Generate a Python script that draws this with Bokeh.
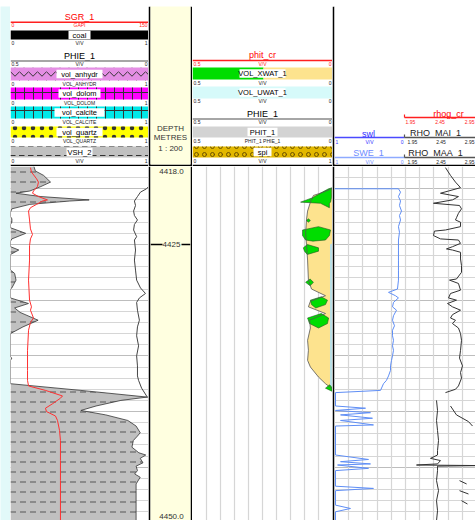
import numpy as np
from bokeh.plotting import figure
from bokeh.models import Range1d, Grid, FixedTicker
from bokeh.layouts import row, column
from bokeh.core.properties import value
from bokeh.embed import file_html
from bokeh.resources import INLINE

FONT = value("Liberation Sans")
NAN = float("nan")

# ---------------- data ----------------
DEPTH_TOP = 4418.0
DEPTH_BOTTOM = 4449.78
DEPTH_LABEL_VALUES = [4418.0, 4425.0, 4450.0]
DEPTH_LABEL_TEXT = ["4418.0", "4425", "4450.0"]
DEPTH_TICK_VALUES = [4425.0]
DEPTH_MINOR_TICKS = [4418, 4419, 4420, 4421, 4422, 4423, 4424, 4425, 4426, 4427, 4428, 4429,
                     4430, 4431, 4432, 4433, 4434, 4435, 4436, 4437, 4438, 4439, 4440, 4441,
                     4442, 4443, 4444, 4445, 4446, 4447, 4448, 4449]
DEPTH_MAJOR_TICKS = [4420, 4425, 4430, 4435, 4440, 4445]

# track 1 : VSH_2 (v/v, 0-1)
VSH_DEPTH = [4418.0, 4418.4, 4418.8, 4419.4, 4419.8, 4420.2, 4420.4, 4420.7, 4421.0, 4421.1,
             4421.4, 4421.8, 4422.1, 4422.5, 4422.7, 4423.0, 4423.2, 4423.5, 4424.0, 4424.5,
             4424.7, 4425.2, 4425.5, 4425.9, 4427.3, 4427.6, 4428.2, 4428.9, 4429.0, 4429.8,
             4430.3, 4430.7, 4431.1, 4431.8, 4432.4, 4433.0, 4435.1, 4435.2, 4435.4, 4437.5,
             4438.1, 4438.7, 4439.0, 4439.5, 4439.9, 4440.3, 4440.8, 4441.3, 4441.9, 4442.2,
             4442.6, 4443.2, 4443.7, 4443.9, 4444.2, 4444.6, 4444.9, 4445.3, 4445.6, 4445.9,
             4446.5, 4447.1, 4449.8]
VSH_2 = [0.17, 0.18, 0.24, 0.29, 0.22, 0.14, 0.04, 0.22, 0.57, 0.43,
         0.14, 0.01, 0.0, 0.0, 0.01, 0.01, 0.0, 0.0, 0.11, 0.01,
         0.0, 0.0, 0.06, 0.0, 0.0, 0.03, 0.04, 0.01, 0.0, 0.0,
         0.13, 0.03, 0.07, 0.20, 0.09, 0.0, 0.0, 0.01, 0.0, 0.0,
         0.51, 0.99, 0.80, 0.62, 0.51, 0.69, 0.85, 0.91, 0.94, 0.92,
         0.89, 0.88, 0.93, 0.98, 0.94, 0.96, 0.91, 0.92, 0.90, 0.94,
         0.91, 0.91, 0.91]

# track 1 : SGR_1 (GAPI, 0-150)
SGR_DEPTH = [4418.1, 4418.5, 4419.1, 4419.4, 4419.8, 4420.2, 4420.4, 4420.7, 4421.0, 4421.1,
             4421.4, 4421.7, 4422.0, 4422.8, 4423.6, 4424.1, 4424.5, 4425.1, 4426.4, 4428.2,
             4430.0, 4430.6, 4430.9, 4431.6, 4432.0, 4432.7, 4434.5, 4436.3, 4437.2, 4437.7,
             4438.1, 4438.6, 4438.8, 4439.3, 4439.7, 4440.0, 4440.4, 4440.8, 4441.7, 4442.6,
             4444.4, 4446.2, 4449.8]
SGR_1 = [21.7, 22.8, 28.3, 30.4, 29.3, 25.0, 23.9, 30.4, 40.2, 34.8,
         28.3, 21.7, 19.6, 20.7, 21.7, 23.9, 21.7, 20.7, 20.7, 19.6,
         20.7, 22.8, 21.7, 25.0, 21.7, 19.6, 18.5, 18.5, 18.5, 19.6,
         38.0, 56.5, 54.3, 45.7, 38.0, 39.1, 48.9, 51.1, 53.3, 54.3,
         54.3, 54.3, 54.3]

# track 1 : PHIE_1 (0.5-0)
PHIE_DEPTH = [4418.0, 4419.8, 4420.0, 4420.3, 4420.7, 4421.1, 4421.5, 4422.0, 4422.4, 4422.8,
              4423.2, 4423.7, 4424.3, 4424.6, 4425.5, 4426.4, 4427.3, 4428.2, 4428.9, 4429.4,
              4429.8, 4430.2, 4430.9, 4431.8, 4432.4, 4433.2, 4434.1, 4435.0, 4435.9, 4436.8,
              4437.2, 4437.9, 4438.6, 4438.8, 4449.8]
PHIE_1 = [0.0, 0.0, 0.007, 0.029, 0.040, 0.051, 0.047, 0.054, 0.051, 0.040,
          0.051, 0.054, 0.043, 0.051, 0.047, 0.051, 0.047, 0.043, 0.029, 0.011,
          0.033, 0.043, 0.040, 0.033, 0.040, 0.043, 0.036, 0.043, 0.040, 0.040,
          0.036, 0.025, 0.007, 0.0, 0.0]

# track 3 : PHIT_1 (0.5-0)
PHIT_DEPTH = [4418.0, 4419.9, 4420.0, 4420.3, 4420.6, 4421.2, 4422.0, 4422.8, 4424.0, 4425.0,
              4426.4, 4428.2, 4429.0, 4429.6, 4430.1, 4430.6, 4431.2, 4431.8, 4432.5, 4433.6,
              4434.5, 4435.4, 4436.0, 4436.9, 4437.5, 4437.9, 4438.1, 4449.8]
PHIT_1 = [0.0, 0.0, 0.004, 0.032, 0.068, 0.079, 0.089, 0.093, 0.096, 0.093,
          0.089, 0.086, 0.075, 0.025, 0.079, 0.086, 0.025, 0.082, 0.079, 0.089,
          0.086, 0.089, 0.079, 0.050, 0.025, 0.004, 0.0, 0.0]

# track 3 : VOL_XWAT_1 excess bodies (left / right edge), NaN separates bodies
XWAT_DEPTH = [4419.9, 4420.0, 4420.3, 4420.8, 4421.2, 4421.3, 4421.7, NAN,
              4422.7, 4422.85, 4423.0, NAN,
              4423.4, 4423.7, 4424.2, 4424.6, 4424.7, NAN,
              4425.0, 4425.3, 4425.6, 4425.9, NAN,
              4428.1, 4428.4, 4428.7, NAN,
              4429.7, 4430.0, 4430.4, 4430.7, NAN,
              4431.2, 4431.6, 4432.1, 4432.5, NAN,
              4437.6, 4437.9, 4438.2]
XWAT_LEFT = [0.0, 0.014, 0.036, 0.071, 0.114, 0.043, 0.011, NAN,
             0.086, 0.093, 0.086, NAN,
             0.050, 0.107, 0.107, 0.096, 0.070, NAN,
             0.090, 0.104, 0.100, 0.090, NAN,
             0.080, 0.096, 0.080, NAN,
             0.040, 0.079, 0.075, 0.060, NAN,
             0.040, 0.089, 0.082, 0.050, NAN,
             0.010, 0.025, 0.0]
XWAT_RIGHT = [0.0, 0.004, 0.004, 0.004, 0.007, 0.011, 0.011, NAN,
              0.086, 0.079, 0.086, NAN,
              0.050, 0.007, 0.011, 0.025, 0.070, NAN,
              0.090, 0.050, 0.050, 0.090, NAN,
              0.080, 0.068, 0.080, NAN,
              0.040, 0.018, 0.025, 0.060, NAN,
              0.040, 0.014, 0.018, 0.050, NAN,
              0.010, 0.0, 0.0]

# track 3 : VOL_UWAT_1
UWAT_DEPTH = [4424.9, 4425.0, 4437.8, 4437.9]
UWAT_1 = [0.0, 0.009, 0.009, 0.0]

# track 4 : SWE_1 (1-0)
SWE_DEPTH = [4420.0, 4420.0, 4420.3, 4420.7, 4421.1, 4421.5, 4422.0, 4422.4, 4422.8, 4423.4,
             4423.9, 4424.6, 4425.5, 4426.4, 4427.3, 4428.2, 4429.0, 4429.3, 4429.6, 4429.8,
             4430.2, 4430.6, 4430.9, 4431.4, 4431.8, 4432.3, 4432.7, 4433.2, 4433.6, 4434.1,
             4434.5, 4435.0, 4435.4, 4435.9, 4436.3, 4436.8, 4437.2, 4437.5, 4438.1, 4438.3,
             4439.5, 4439.7, 4439.9, 4440.1, 4440.3, 4440.6, 4440.8, 4441.2, 4441.3, 4443.9,
             4444.3, 4444.5, 4444.7, 4444.8, 4445.1, 4445.3, 4446.7, 4446.9, 4447.1, 4448.4,
             4448.7, 4449.0, 4449.8]
SWE_1 = [1.0, 0.099, 0.070, 0.099, 0.070, 0.085, 0.056, 0.085, 0.070, 0.099,
         0.085, 0.099, 0.099, 0.099, 0.099, 0.099, 0.113, 0.239, 0.141, 0.099,
         0.169, 0.183, 0.127, 0.169, 0.183, 0.155, 0.183, 0.183, 0.169, 0.183,
         0.169, 0.183, 0.197, 0.211, 0.211, 0.239, 0.268, 0.310, 0.352, 0.986,
         0.986, 0.563, 0.986, 0.493, 0.915, 0.465, 0.915, 0.451, 0.986, 0.986,
         0.521, 0.915, 0.493, 0.957, 0.521, 0.986, 0.986, 0.451, 0.986, 0.986,
         0.775, 0.986, 0.986]

# track 4 : RHO_MAI_1 (g/cc)
RHOMAI_DEPTH = [4418.1, 4418.8, 4419.4, 4419.9, 4420.2, 4420.4, 4420.7, 4421.0, 4421.3, 4421.5,
                4421.8, 4422.2, 4422.6, 4422.8, 4423.0, 4423.4, 4423.7, 4423.8, 4424.2, 4424.5,
                4424.6, 4424.9, 4425.2, 4425.4, 4425.5, 4425.7, 4426.3, 4426.9, 4427.5, 4428.1,
                4428.2, 4428.5, 4429.1, 4429.4, 4429.8, 4430.0, 4430.3, 4430.6, 4430.9, 4431.3,
                4431.6, 4431.8, 4432.1, 4432.5, 4433.0, 4433.6, 4434.5, 4435.2, 4435.9, 4436.5,
                4437.0, 4437.7, 4438.0, 4438.3, NAN,
                4439.0, 4439.9, 4440.8, 4441.7, 4442.6, 4443.5, 4443.9, 4444.2, 4444.4, 4444.7,
                4444.8, 4444.85, 4444.9, 4445.3, 4446.2, 4447.1, 4448.0, 4448.9, 4449.8]
RHO_MAI_1 = [2.513, 2.584, 2.654, 2.725, 2.556, 2.443, 2.696, 2.612, 2.344, 2.711,
             2.739, 2.696, 2.668, 2.654, 2.725, 2.725, 2.513, 2.358, 2.344, 2.443,
             2.696, 2.725, 2.612, 2.527, 2.612, 2.725, 2.725, 2.739, 2.739, 2.668,
             2.570, 2.696, 2.725, 2.584, 2.556, 2.668, 2.542, 2.612, 2.725, 2.612,
             2.584, 2.654, 2.612, 2.696, 2.725, 2.739, 2.725, 2.711, 2.753, 2.725,
             2.739, 2.696, 2.654, 2.513, NAN,
             2.387, 2.401, 2.387, 2.401, 2.415, 2.401, 2.401, 2.302, 2.443, 2.401,
             2.105, 3.006, 2.401, 2.401, 2.387, 2.415, 2.387, 2.401, 2.387]

# track 4 : RHO_MAA_1 (g/cc), mostly off scale
RHOMAA_DEPTH = [4439.5, 4440.3, 4440.9, 4441.3, NAN, 4446.2, 4446.5, NAN,
                4447.1, 4447.4, NAN, 4448.0, 4448.3]
RHO_MAA_1 = [2.584, 2.668, 2.837, 2.894, NAN, 2.711, 2.811, NAN,
             2.711, 2.837, NAN, 2.739, 2.823]

# header texts
T1_CURVE_LABELS = ["SGR_1", "PHIE_1"]
T1_FILL_LABELS = ["coal", "vol_anhydr", "vol_dolom", "vol_calcite", "vol_quartz", "VSH_2"]
T1_FILL_UNITS = ["V/V", "VOL_ANHYDR", "VOL_DOLOM", "VOL_CALCITE", "VOL_QUARTZ", "V/V"]
T3_LABELS = ["phit_cr", "VOL_XWAT_1", "VOL_UWAT_1", "PHIE_1", "PHIT_1", "spi"]
T4_LABELS = ["rhog_cr", "swl", "RHO_MAI_1", "SWE_1", "RHO_MAA_1"]
DEPTH_HEADER = ["DEPTH", "METRES", "1 : 200"]

# ---------------- styling ----------------
NAVY = "#00004a"
CYAN_BG = "#e2f9f9"
YELLOW_BG = "#ffffe0"
GRID_C = "#d6d6d6"
GRID_C5 = "#bdbdbd"
ORANGE = "#fde38e"
GREEN = "#00dd00"


def txt(f, x, y, s, size=9, color="black", align="center", baseline="middle"):
    f.text(x=[x], y=[y], text=[s], text_font=FONT, text_font_size=f"{size}px",
           text_color=color, text_align=align, text_baseline=baseline)


def bar(f, y0, y1, x0, x1, color, hatch=None, hatch_color="#444", hatch_scale=8):
    kw = {}
    if hatch:
        kw = dict(hatch_pattern=hatch, hatch_color=hatch_color, hatch_scale=hatch_scale,
                  hatch_weight=1)
    f.quad(left=[x0], right=[x1], top=[y0], bottom=[y1], fill_color=color, line_color=None, **kw)


def label_box(f, xc, yc, s, size=7.5):
    wd = len(s) * 4.0 + 6
    f.rect(x=[xc], y=[yc], width=[wd], height=[8.5], fill_color="white", line_color=None)
    txt(f, xc, yc, s, size=size)


def scale_text(f, y, w, left, mid, right, color="#222", x0=0, x1=None, xm=None):
    if x1 is None:
        x1 = w
    if xm is None:
        xm = (x0 + x1) / 2
    txt(f, x0 + 1, y, left, size=5, color=color, align="left")
    txt(f, xm, y, mid, size=5, color=color)
    txt(f, x1 - 1, y, right, size=5, color=color, align="right")


def blank_fig(width, height, bg):
    f = figure(width=width, height=height, x_range=Range1d(0, 1), y_range=Range1d(0, 1),
               x_axis_location=None, y_axis_location=None, toolbar_location=None,
               output_backend="svg", min_border=0, background_fill_color=bg,
               border_fill_color=bg, outline_line_color=None, title=None)
    f.grid.visible = False
    return f


def header_fig(width, left_border=0, right_border=0, bg="white"):
    w = width - left_border - right_border
    f = figure(width=width, height=160, x_range=Range1d(0, w), y_range=Range1d(158, 0),
               x_axis_location=None, y_axis_location=None, toolbar_location=None,
               output_backend="svg", min_border_left=left_border, min_border_right=right_border,
               min_border_top=0, min_border_bottom=2, border_fill_color="black",
               background_fill_color=bg, outline_line_color=None, title=None)
    f.grid.visible = False
    return f, w


shared_y = Range1d(DEPTH_BOTTOM, DEPTH_TOP)


def data_fig(width, xr, left_border=0, right_border=0, bg="white"):
    f = figure(width=width, height=354, x_range=xr, y_range=shared_y,
               x_axis_location=None, y_axis_location=None, toolbar_location=None,
               output_backend="svg", min_border_left=left_border, min_border_right=right_border,
               min_border_top=0, min_border_bottom=0, border_fill_color="black",
               background_fill_color=bg, outline_line_color=None, title=None)
    f.grid.visible = False
    return f


def depth_grid(f):
    f.add_layout(Grid(dimension=1, ticker=FixedTicker(ticks=DEPTH_MINOR_TICKS),
                      grid_line_color=GRID_C, grid_line_width=1.2))
    f.add_layout(Grid(dimension=1, ticker=FixedTicker(ticks=DEPTH_MAJOR_TICKS),
                      grid_line_color=GRID_C5, grid_line_width=1.2))


def split_nan(d, a, b):
    out, cur = [], []
    for di, ai, bi in zip(d, a, b):
        if np.isnan(di):
            if cur:
                out.append(cur)
            cur = []
        else:
            cur.append((di, ai, bi))
    if cur:
        out.append(cur)
    return out


# ---------------- top strip & margin ----------------
navy = blank_fig(475, 6, NAVY)
spacer = blank_fig(10, 514, CYAN_BG)

# ---------------- track 1 ----------------
h1, w1 = header_fig(138)
txt(h1, w1 / 2, 10, T1_CURVE_LABELS[0], size=9, color="#ff0000")
h1.segment(x0=[0], y0=[15.7], x1=[w1], y1=[15.7], line_color="#ff2020", line_width=1.5)
scale_text(h1, 18.5, w1, "0", "GAPI", "150", color="#ff2020")
fill_rows = [(24, 33), (61, 74), (81, 93), (100, 112), (120, 131), (140, 151)]
fill_cols = ["#000000", "#e48ee4", "#ff00ff", "#00e8e8", "#ffff00", "#c0c0c0"]
fill_hatch = [None, "horizontal_wave", "cross", "cross", "dot", "horizontal_dash"]
for (y0, y1), c, hp, lab, unit in zip(fill_rows, fill_cols, fill_hatch, T1_FILL_LABELS, T1_FILL_UNITS):
    bar(h1, y0, y1, 0, w1, c, hp, hatch_color="#333", hatch_scale=9)
    label_box(h1, w1 / 2, (y0 + y1) / 2, lab)
    scale_text(h1, y1 + 3.5, w1, "0", unit, "1")
txt(h1, w1 / 2, 49, T1_CURVE_LABELS[1], size=9)
h1.segment(x0=[0], y0=[54.5], x1=[w1], y1=[54.5], line_color="#888888", line_width=1.5)
scale_text(h1, 57.5, w1, "0.5", "V/V", "0")

d1 = data_fig(138, Range1d(0, 1))
d1.extra_x_ranges = {"sgr": Range1d(0, 150), "phie": Range1d(0.5, 0)}
depth_grid(d1)
d1.harea(x1=[0] * len(VSH_2), x2=VSH_2, y=VSH_DEPTH, fill_color="#c0c0c0",
         hatch_pattern="horizontal_dash", hatch_color="#555555", hatch_scale=10, hatch_weight=1)
d1.line(x=VSH_2, y=VSH_DEPTH, line_color="#333333", line_width=0.8)
d1.line(x=SGR_1, y=SGR_DEPTH, line_color="#ff3030", line_width=1, x_range_name="sgr")
d1.line(x=PHIE_1, y=PHIE_DEPTH, line_color="#444444", line_width=1, x_range_name="phie")

# ---------------- depth track ----------------
hd, wd = header_fig(44, left_border=2, right_border=2, bg=YELLOW_BG)
for s, yy in zip(DEPTH_HEADER, [122, 130.5, 142]):
    txt(hd, wd / 2, yy, s, size=8, color="#333333")

dd = data_fig(44, Range1d(0, 40), left_border=2, right_border=2, bg=YELLOW_BG)
baselines = ["top", "middle", "bottom"]
offsets = [2, 0, -4]
for dv, s, bl, off in zip(DEPTH_LABEL_VALUES, DEPTH_LABEL_TEXT, baselines, offsets):
    dd.text(x=[21], y=[dv], text=[s], text_font=FONT, text_font_size="8px",
            text_color="#333333", text_align="center", text_baseline=bl, y_offset=off)
dd.segment(x0=[0] * len(DEPTH_TICK_VALUES), y0=DEPTH_TICK_VALUES, x1=[12] * len(DEPTH_TICK_VALUES),
           y1=DEPTH_TICK_VALUES, line_color="black", line_width=1.5)
dd.segment(x0=[31] * len(DEPTH_TICK_VALUES), y0=DEPTH_TICK_VALUES, x1=[40] * len(DEPTH_TICK_VALUES),
           y1=DEPTH_TICK_VALUES, line_color="black", line_width=1.5)

# ---------------- track 3 ----------------
h3, w3 = header_fig(140)
txt(h3, w3 / 2, 48, T3_LABELS[0], size=9, color="#ff0000")
h3.segment(x0=[0], y0=[54], x1=[w3], y1=[54], line_color="#ff2020", line_width=1.5)
scale_text(h3, 57, w3, "0.5", "V/V", "0", color="#ff2020")
bar(h3, 61, 73, 0, 71, GREEN)
bar(h3, 61, 73, 71, w3, ORANGE)
label_box(h3, 70, 67, T3_LABELS[1])
scale_text(h3, 76, w3, "0.5", "V/V", "0")
bar(h3, 80, 92, 0, w3, "#d6fafa")
label_box(h3, 70, 86, T3_LABELS[2])
scale_text(h3, 94.5, w3, "0.5", "V/V", "0")
txt(h3, w3 / 2, 107, T3_LABELS[3], size=9)
h3.segment(x0=[0], y0=[112.5], x1=[w3], y1=[112.5], line_color="#888888", line_width=1.5)
scale_text(h3, 115, w3, "0.5", "V/V", "0")
bar(h3, 120, 131, 0, w3, "#d3d3d3")
label_box(h3, 70, 125.5, T3_LABELS[4])
scale_text(h3, 134, w3, "0.5", "PHIT_1 PHIE_1", "0")
bar(h3, 140, 151, 0, w3, "#e2b800", "ring", hatch_color="#6a5000", hatch_scale=8)
label_box(h3, 70, 145.5, T3_LABELS[5])
scale_text(h3, 154.5, w3, "0", "V/V", "1")

d3 = data_fig(140, Range1d(0.5, 0))
d3.add_layout(Grid(dimension=0, ticker=FixedTicker(ticks=[0.05, 0.1, 0.15, 0.2, 0.25, 0.3, 0.35, 0.4, 0.45]),
                   grid_line_color=GRID_C, grid_line_width=1.2))
d3.harea(x1=PHIT_1, x2=[0] * len(PHIT_1), y=PHIT_DEPTH, fill_color=ORANGE)
d3.harea(x1=UWAT_1, x2=[0] * len(UWAT_1), y=UWAT_DEPTH, fill_color="#b9dfe6")
blobs = split_nan(XWAT_DEPTH, XWAT_LEFT, XWAT_RIGHT)
xs = [[p[1] for p in b] + [p[2] for p in b][::-1] for b in blobs]
ys = [[p[0] for p in b] + [p[0] for p in b][::-1] for b in blobs]
d3.patches(xs=xs, ys=ys, fill_color=GREEN, line_color="#225522", line_width=0.6)
d3.line(x=PHIT_1, y=PHIT_DEPTH, line_color="#555555", line_width=0.8)

# ---------------- track 4 ----------------
h4, w4 = header_fig(143, left_border=2)
half = 70
txt(h4, 114, 107, T4_LABELS[0], size=9, color="#ff0000")
h4.segment(x0=[half], y0=[111], x1=[w4], y1=[111], line_color="#ff2020", line_width=1.5)
h4.segment(x0=[half], y0=[108], x1=[half], y1=[111], line_color="#ff2020", line_width=1.2)
scale_text(h4, 115, w4, "1.95", "2.45", "2.95", color="#ff2020", x0=half)
txt(h4, 34, 127, T4_LABELS[1], size=9, color="#3030ff")
h4.segment(x0=[0], y0=[131], x1=[half], y1=[131], line_color="#4a4aff", line_width=1.5)
scale_text(h4, 135, w4, "1", "V/V", "0", color="#3030ff", x0=0, x1=half)
txt(h4, 101, 126, T4_LABELS[2], size=9, color="#222222")
h4.segment(x0=[half], y0=[131], x1=[w4], y1=[131], line_color="#555555", line_width=1.3)
h4.segment(x0=[half], y0=[128], x1=[half], y1=[131], line_color="#555555", line_width=1.2)
scale_text(h4, 135, w4, "1.95", "2.45", "2.95", x0=half + 2)
txt(h4, 34, 146, T4_LABELS[3], size=9, color="#6f8cff")
h4.segment(x0=[0], y0=[151], x1=[half], y1=[151], line_color="#8eaaff", line_width=1.5)
scale_text(h4, 155, w4, "1", "V/V", "0", color="#6f8cff", x0=0, x1=half)
txt(h4, 101, 146, T4_LABELS[4], size=9, color="#222222")
h4.segment(x0=[half], y0=[151], x1=[w4], y1=[151], line_color="#555555", line_width=1.3)
h4.segment(x0=[half], y0=[148], x1=[half], y1=[151], line_color="#555555", line_width=1.2)
scale_text(h4, 155, w4, "1.95", "2.45", "2.95", x0=half + 2)

d4 = data_fig(143, Range1d(0, 9.93), left_border=2)
d4.extra_x_ranges = {"sw": Range1d(1.0, -0.986), "rho": Range1d(0.95, 2.936)}
depth_grid(d4)
d4.add_layout(Grid(dimension=0, ticker=FixedTicker(ticks=[1, 2, 3, 4, 5, 6, 7, 8, 9]),
                   grid_line_color=GRID_C, grid_line_width=1.2))
d4.line(x=SWE_1, y=SWE_DEPTH, line_color="#5f8ef5", line_width=1, x_range_name="sw")
d4.line(x=RHO_MAI_1, y=RHOMAI_DEPTH, line_color="#333333", line_width=1, x_range_name="rho")
d4.line(x=RHO_MAA_1, y=RHOMAA_DEPTH, line_color="#333333", line_width=1, x_range_name="rho")

# ---------------- layout ----------------
body = row(spacer, column(h1, d1), column(hd, dd), column(h3, d3), column(h4, d4))
p = column(navy, body)

open("out.html", "w").write(file_html(p, INLINE))
